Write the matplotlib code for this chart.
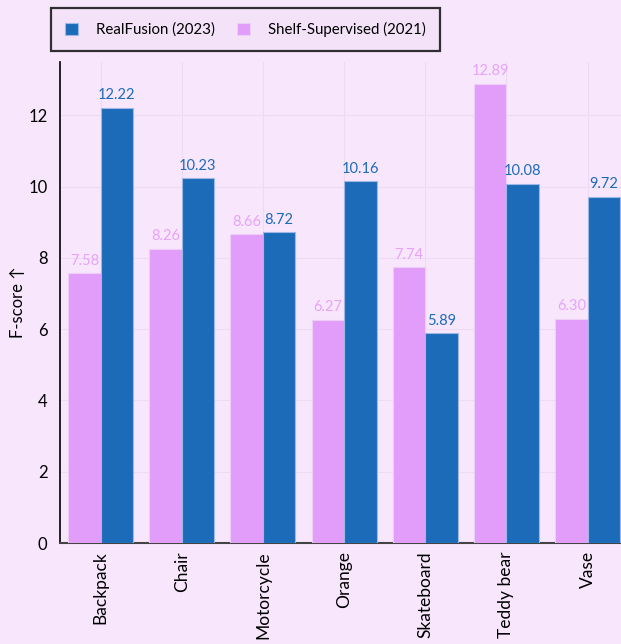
import numpy as np
import matplotlib
matplotlib.use("Agg")
import matplotlib.pyplot as plt

categories = ["Backpack", "Chair", "Motorcycle", "Orange", "Skateboard", "Teddy bear", "Vase"]
realfusion = [12.22, 10.23, 8.72, 10.16, 5.89, 10.08, 9.72]
shelf_supervised = [7.58, 8.26, 8.66, 6.27, 7.74, 12.89, 6.30]
yticks = [0, 2, 4, 6, 8, 10, 12]

bg = "#F8E6FD"
pink = "#E29CF9"
blue = "#1C6BB8"

plt.rcParams["font.family"] = ["Lato", "DejaVu Sans"]

fig = plt.figure(figsize=(6.21, 6.44), dpi=100, facecolor=bg)
ax = fig.add_axes([0.0966, 0.1568, 0.915, 0.747])
ax.set_facecolor(bg)

x = np.arange(len(categories))
w = 0.4
b1 = ax.bar(x - w / 2, shelf_supervised, w, color=pink, edgecolor="#EBCFF5",
            linewidth=0.8, label="Shelf-Supervised (2021)", zorder=3)
b2 = ax.bar(x + w / 2, realfusion, w, color=blue, edgecolor="#9DB8E6",
            linewidth=0.8, label="RealFusion (2023)", zorder=3)

for rect, v in zip(b1, shelf_supervised):
    ax.text(rect.get_x() + rect.get_width() / 2, v + 0.15, f"{v:.2f}",
            ha="center", va="bottom", color="#E6A3F8", fontsize=10.5)
for rect, v in zip(b2, realfusion):
    ax.text(rect.get_x() + rect.get_width() / 2, v + 0.15, f"{v:.2f}",
            ha="center", va="bottom", color=blue, fontsize=10.5)

ax.set_xlim(-0.5, len(categories) - 0.5)
ax.set_ylim(0, 13.5)
ax.set_yticks(yticks)
ax.set_xticks(x)
ax.set_xticklabels(categories, rotation=90, fontsize=12.5)
ax.tick_params(axis="y", labelsize=12, length=0, pad=9)
ax.tick_params(axis="x", length=0, pad=6)
ax.grid(True, color="#EEDAF3", linewidth=0.8, zorder=0)
ax.set_axisbelow(True)
for s in ["top", "right"]:
    ax.spines[s].set_visible(False)
ax.spines["left"].set_color("black")
ax.spines["left"].set_linewidth(1.2)
ax.spines["bottom"].set_color("#444444")
ax.spines["bottom"].set_linewidth(1.5)
ax.set_ylabel("F-score ↑", fontsize=12, va="center")
ax.yaxis.set_label_coords(-0.074, 0.5)

handles = [b2, b1]
leg = fig.legend(handles, [h.get_label() for h in handles], ncol=2,
                 loc="center left", bbox_to_anchor=(0.082, 0.954),
                 fontsize=10.8, frameon=True, fancybox=False,
                 handlelength=0.85, handleheight=0.85, columnspacing=1.5,
                 handletextpad=1.2, borderpad=0.95, borderaxespad=0)
leg.get_frame().set_edgecolor("black")
leg.get_frame().set_linewidth(1.6)
leg.get_frame().set_facecolor("#F3E3F7")

fig.savefig("out.png", dpi=100, facecolor=bg)
